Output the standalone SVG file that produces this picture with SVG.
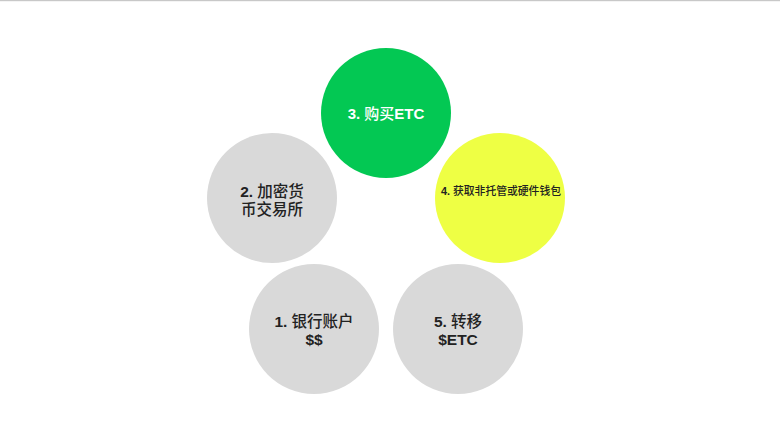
<svg xmlns="http://www.w3.org/2000/svg" width="780" height="437" viewBox="0 0 780 437">
<style>
.t{font-family:"Liberation Sans","Noto Sans CJK SC",sans-serif;text-anchor:middle;fill:#222;font-weight:500}
.b{font-weight:bold}
.gray{fill:#d9d9d9}
</style>
<rect x="0" y="0" width="780" height="437" fill="#fff"/>
<rect x="0" y="0" width="780" height="1.2" fill="#c8c8c8"/>
<g id="connectors"></g>
<g id="node3">
<circle cx="386" cy="113" r="65" fill="#03c853"/>
<text class="t" x="386" y="119" font-size="15" style="fill:#fff"><tspan class="b">3. </tspan>购买<tspan class="b">ETC</tspan></text>
</g>
<g id="node2">
<circle class="gray" cx="272" cy="198" r="65"/>
<text class="t" x="272" y="197" font-size="15.5"><tspan class="b">2. </tspan>加密货</text>
<text class="t" x="272" y="215" font-size="15.5">币交易所</text>
</g>
<g id="node4">
<circle cx="500" cy="198" r="65" fill="#eeff44"/>
<text class="t" x="501" y="195" font-size="10.8"><tspan class="b">4. </tspan>获取非托管或硬件钱包</text>
</g>
<g id="node1">
<circle class="gray" cx="314" cy="329" r="65"/>
<text class="t" x="314" y="327" font-size="15.5"><tspan class="b">1. </tspan>银行账户</text>
<text class="t b" x="314" y="345" font-size="15.5">$$</text>
</g>
<g id="node5">
<circle class="gray" cx="458" cy="329" r="65"/>
<text class="t" x="458" y="327" font-size="15.5"><tspan class="b">5. </tspan>转移</text>
<text class="t b" x="458" y="345" font-size="15.5">$ETC</text>
</g>
</svg>
